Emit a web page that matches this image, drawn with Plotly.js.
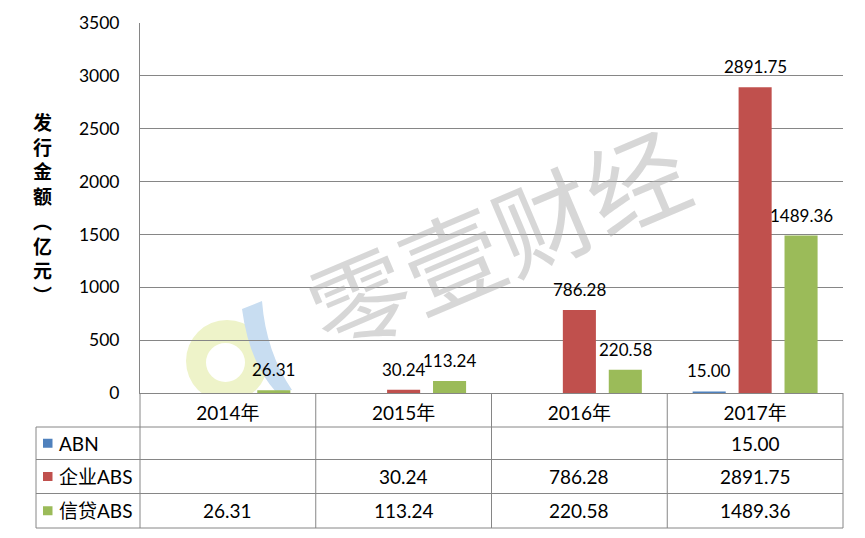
<!DOCTYPE html>
<html>
<head>
<meta charset="utf-8">
<script src="https://cdn.plot.ly/plotly-3.0.1.min.js"></script>
<style>html,body{margin:0;padding:0;background:#fff;}#chart{width:865px;height:538px;}</style>
</head>
<body>
<div id="chart"></div>
<script>
// ---- data ----
const categories = ['2014年', '2015年', '2016年', '2017年'];
const seriesNames = ['ABN', '企业ABS', '信贷ABS'];
const abn = [null, null, null, 15.00];
const corpABS = [null, 30.24, 786.28, 2891.75];
const creditABS = [26.31, 113.24, 220.58, 1489.36];
const colors = ['#4F81BD', '#C0504D', '#9BBB59'];
const yTitle = '发行金额︵亿元︶';
const watermark = '零壹财经';

// ---- layout constants ----
const W = 865, H = 538;
const M = {l: 140, r: 22, t: 23, b: 145};
const PW = W - M.l - M.r, PH = H - M.t - M.b;
const px = x => (x - M.l) / PW;           // pixel -> paper x
const py = y => (H - M.b - y) / PH;       // pixel -> paper y
const FONT = 'Lato, "Noto Sans CJK SC", sans-serif';
const GRID = '#868686';
const bargap = 0.216, bargroupgap = 0.28;

const allSeries = [abn, corpABS, creditABS];
const traces = allSeries.map((vals, k) => ({
  type: 'bar', name: seriesNames[k], x: categories, y: vals,
  marker: {color: colors[k]}, hoverinfo: 'skip'
}));

const annotations = [];
const shapes = [];

// data labels above bars
const slot = (1 - bargap) / allSeries.length;
allSeries.forEach((vals, k) => {
  vals.forEach((v, i) => {
    if (v === null) return;
    annotations.push({
      xref: 'x', yref: 'y', x: i + (k - (allSeries.length - 1) / 2) * slot, y: v,
      xanchor: 'center', yanchor: 'bottom', yshift: 8,
      text: v.toFixed(2), showarrow: false,
      font: {family: FONT, size: 17, color: '#000'}
    });
  });
});

// y axis title (vertical stacked)
annotations.push({
  xref: 'paper', yref: 'paper', x: px(42), y: py(208), xanchor: 'center', yanchor: 'middle',
  text: yTitle.split('').join('<br>'), showarrow: false,
  font: {family: '"Noto Sans CJK SC", sans-serif', size: 19, color: '#000', weight: 'bold'}
});

// logo (decorative)
shapes.push({type: 'circle', xref: 'paper', yref: 'paper', layer: 'below',
  x0: px(186), x1: px(268), y0: py(402), y1: py(320), fillcolor: '#EEF3C9', line: {width: 0}});
shapes.push({type: 'circle', xref: 'paper', yref: 'paper', layer: 'below',
  x0: px(206), x1: px(245), y0: py(382), y1: py(343), fillcolor: '#FFFFFF', line: {width: 0}});
const crescent = [[242, 309], [249, 362], [276, 392], [292, 390], [266, 352], [262, 301]];
shapes.push({type: 'path', xref: 'paper', yref: 'paper', layer: 'below',
  path: `M ${px(crescent[0][0])} ${py(crescent[0][1])} Q ${px(crescent[1][0])} ${py(crescent[1][1])} ${px(crescent[2][0])} ${py(crescent[2][1])} L ${px(crescent[3][0])} ${py(crescent[3][1])} Q ${px(crescent[4][0])} ${py(crescent[4][1])} ${px(crescent[5][0])} ${py(crescent[5][1])} Z`,
  fillcolor: '#C8DDF1', line: {width: 0}});
shapes.push({type: 'rect', xref: 'paper', yref: 'paper', layer: 'below',
  x0: px(150), x1: px(330), y0: py(430), y1: py(393.5), fillcolor: '#FFFFFF', line: {width: 0}});

// data table
const rowY = [393, 427, 459.5, 493.5, 528];
const colX = [0, 0.25, 0.5, 0.75, 1];
const tableLeft = px(36);
const ln = (x0, y0, x1, y1) => shapes.push({type: 'line', xref: 'paper', yref: 'paper',
  x0, y0, x1, y1, line: {color: GRID, width: 1}});
for (let r = 1; r < rowY.length; r++) ln(tableLeft, py(rowY[r]), 1, py(rowY[r]));
colX.forEach(c => ln(c, py(rowY[0]), c, py(rowY[rowY.length - 1])));
ln(tableLeft, py(rowY[1]), tableLeft, py(rowY[rowY.length - 1]));

allSeries.forEach((vals, k) => {
  const yc = py((rowY[k + 1] + rowY[k + 2]) / 2);
  shapes.push({type: 'rect', xref: 'paper', yref: 'paper',
    x0: px(43), x1: px(52.5), y0: yc - 4.5 / PH, y1: yc + 4.5 / PH,
    fillcolor: colors[k], line: {width: 0}});
  annotations.push({xref: 'paper', yref: 'paper', x: px(57), y: yc, xanchor: 'left', yanchor: 'middle',
    text: seriesNames[k], showarrow: false, font: {family: FONT, size: 19, color: '#000'}});
  vals.forEach((v, i) => {
    if (v === null) return;
    annotations.push({xref: 'paper', yref: 'paper', x: (colX[i] + colX[i + 1]) / 2, y: yc,
      xanchor: 'center', yanchor: 'middle',
      text: v.toFixed(2), showarrow: false, font: {family: FONT, size: 19, color: '#000'}});
  });
});

// watermark
annotations.push({xref: 'paper', yref: 'paper', x: px(496), y: py(236), xanchor: 'center', yanchor: 'middle',
  text: watermark, showarrow: false, textangle: -23,
  font: {family: '"Noto Sans CJK SC", sans-serif', size: 100, color: 'rgba(175,175,175,0.5)'}});

const layout = {
  width: W, height: H, margin: M,
  paper_bgcolor: '#fff', plot_bgcolor: '#fff',
  barmode: 'group', bargap, bargroupgap,
  showlegend: false,
  font: {family: FONT, color: '#000'},
  xaxis: {type: 'category', showgrid: false, showline: true, linecolor: GRID, linewidth: 1,
    ticks: '', tickfont: {family: FONT, size: 19, color: '#000'}, ticklabelstandoff: 3,
    fixedrange: true},
  yaxis: {range: [0, 3500], dtick: 500, showgrid: true, gridcolor: GRID, gridwidth: 1,
    showline: true, linecolor: GRID, linewidth: 1, zeroline: false, ticks: '',
    tickfont: {family: FONT, size: 17.5, color: '#000'}, ticklabelstandoff: 16,
    fixedrange: true},
  annotations, shapes
};

Plotly.newPlot('chart', traces, layout, {displayModeBar: false, staticPlot: true});
</script>
</body>
</html>
